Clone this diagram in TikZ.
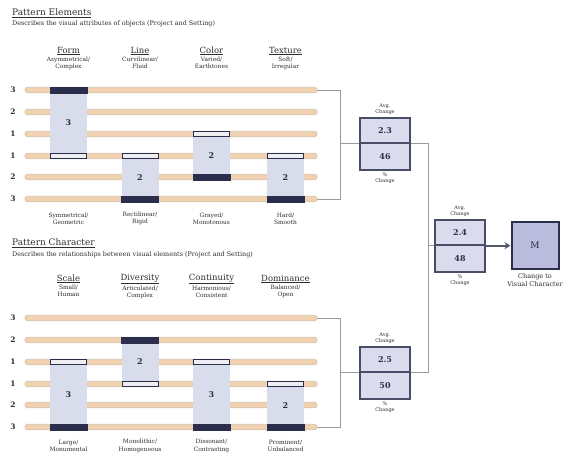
\documentclass[tikz,border=0pt]{standalone}
\usepackage{fontspec}
\setmainfont{DejaVu Serif}
\usetikzlibrary{arrows.meta,positioning,backgrounds}
\definecolor{ink}{HTML}{2E2E2E}
\definecolor{navy}{HTML}{2B2D4C}
\definecolor{peach}{HTML}{F2D1B0}
\definecolor{peachline}{HTML}{D5C4B0}
\definecolor{spanfill}{HTML}{D9DCEB}
\definecolor{capfill}{HTML}{EEEEF2}
\definecolor{sumfill}{HTML}{DADBEC}
\definecolor{mfill}{HTML}{BBBCDD}
\definecolor{wire}{HTML}{9A9A9A}

\begin{document}
\begin{tikzpicture}[
  x=1pt, y=-1pt,
  text=ink,
  head/.style={font=\fontsize{9}{10}\selectfont, anchor=west, inner sep=0pt},
  desc/.style={font=\fontsize{6.4}{7}\selectfont, anchor=west, inner sep=0pt},
  coltitle/.style={font=\fontsize{8.5}{9}\selectfont, inner sep=0pt},
  colsub/.style={font=\fontsize{5.9}{7.3}\selectfont, align=center, inner sep=0pt},
  rowlab/.style={font=\bfseries\fontsize{7.5}{8}\selectfont, inner sep=0pt},
  bar/.style={draw=peachline, fill=peach, minimum width=292pt, minimum height=5.5pt,
              inner sep=0pt, line width=0.6pt, rounded corners=1.5pt},
  spanbody/.style={fill=spanfill, minimum width=37pt, inner sep=0pt,
                   font=\bfseries\fontsize{8}{9}\selectfont, text=navy},
  capdark/.style={fill=navy, draw=navy, minimum width=37pt, minimum height=6pt, inner sep=0pt},
  caplight/.style={fill=capfill, draw=navy, line width=0.9pt, minimum width=36pt,
                   minimum height=5.5pt, inner sep=0pt},
  sumbox/.style={draw=navy!85, fill=sumfill, line width=1.4pt, minimum width=50pt,
                 inner sep=0pt, font=\bfseries\fontsize{8}{9}\selectfont, text=navy},
  sumlab/.style={font=\fontsize{5}{6}\selectfont, align=center, inner sep=0pt},
  mbox/.style={draw=navy, fill=mfill, line width=2pt, minimum size=47pt, inner sep=0pt,
               font=\fontsize{9}{10}\selectfont, text=navy},
  mlab/.style={font=\fontsize{6.5}{7.5}\selectfont, align=center, inner sep=0pt},
  wireline/.style={draw=wire, line width=0.8pt},
  feed/.style={-{Stealth[length=6pt,width=7pt]}, draw=navy!80, line width=1.6pt},
]
\useasboundingbox (0,0) rectangle (573,456);

% ============================================================ PATTERN ELEMENTS
\node[head] (elhead) at (12,13) {\underline{Pattern Elements}};
\node[desc] (eldesc) at (12,24) {Describes the visual attributes of objects (Project and Setting)};

\foreach \r/\yy/\lab in {1/90/3, 2/112/2, 3/134/1, 4/156/1, 5/177/2, 6/199/3} {
  \node[rowlab] (elrow\r) at (13,\yy) {\lab};
  \node[bar] (elbar\r) at (171,\yy) {};
}

\foreach \nm/\cx/\ttl/\ta/\tb/\ba/\bb in {
    form/68.5/Form/Asymmetrical/Complex/Symmetrical/Geometric,
    line/140/Line/Curvilinear/Fluid/Rectilinear/Rigid,
    color/211.5/Color/Varied/Earthtones/Grayed/Monotonous,
    texture/285.5/Texture/Soft/Irregular/Hard/Smooth} {
  \node[coltitle] (\nm h) at (\cx,51) {\underline{\ttl}};
  \node[colsub, below=1.5pt of \nm h] (\nm hs) {\ta/\\\tb};
  \node[colsub] (\nm f) at (\cx,218.5) {\ba/\\\bb};
}

\foreach \nm/\cx/\ya/\yb/\num/\ct/\cb in {
    form/68.5/90/156/3/capdark/caplight,
    line/140/156/199/2/caplight/capdark,
    color/211.5/134/177/2/caplight/capdark,
    texture/285.5/156/199/2/caplight/capdark} {
  \node[spanbody, minimum height={(\yb-\ya)*1pt}] (\nm) at (\cx,{(\ya+\yb)/2}) {\num};
  \node[\ct] (\nm top) at (\cx,\ya) {};
  \node[\cb] (\nm bot) at (\cx,\yb) {};
}

% ============================================================ PATTERN CHARACTER
\node[head] (chhead) at (12,243) {\underline{Pattern Character}};
\node[desc] (chdesc) at (12,255) {Describes the relationships between visual elements (Project and Setting)};

\foreach \r/\yy/\lab in {1/318/3, 2/340/2, 3/362/1, 4/384/1, 5/405/2, 6/427/3} {
  \node[rowlab] (chrow\r) at (13,\yy) {\lab};
  \node[bar] (chbar\r) at (171,\yy) {};
}

\foreach \nm/\cx/\ttl/\ta/\tb/\ba/\bb in {
    scale/68.5/Scale/Small/Human/Large/Monumental,
    diversity/140/Diversity/Articulated/Complex/Monolithic/Homogeneous,
    continuity/211.5/Continuity/Harmonious/Consistent/Dissonant/Contrasting,
    dominance/285.5/Dominance/Balanced/Open/Prominent/Unbalanced} {
  \node[coltitle] (\nm h) at (\cx,279) {\underline{\ttl}};
  \node[colsub, below=1.5pt of \nm h] (\nm hs) {\ta/\\\tb};
  \node[colsub] (\nm f) at (\cx,446) {\ba/\\\bb};
}

\foreach \nm/\cx/\ya/\yb/\num/\ct/\cb in {
    scale/68.5/362/427/3/caplight/capdark,
    diversity/140/340/384/2/capdark/caplight,
    continuity/211.5/362/427/3/caplight/capdark,
    dominance/285.5/384/427/2/caplight/capdark} {
  \node[spanbody, minimum height={(\yb-\ya)*1pt}] (\nm) at (\cx,{(\ya+\yb)/2}) {\num};
  \node[\ct] (\nm top) at (\cx,\ya) {};
  \node[\cb] (\nm bot) at (\cx,\yb) {};
}

% ============================================================ SUMMARY
\node[sumbox, minimum height=25pt] (avgA) at (385,130.5) {2.3};
\node[sumbox, minimum height=27pt, below=-1.4pt of avgA] (pctA) {46};
\node[sumlab, above=2pt of avgA] {Avg.\\Change};
\node[sumlab, below=2pt of pctA] {\%\\Change};

\node[sumbox, minimum height=25pt] (avgC) at (385,359.5) {2.5};
\node[sumbox, minimum height=27pt, below=-1.4pt of avgC] (pctC) {50};
\node[sumlab, above=2pt of avgC] {Avg.\\Change};
\node[sumlab, below=2pt of pctC] {\%\\Change};

\node[sumbox, minimum height=25pt] (avgB) at (460,232.5) {2.4};
\node[sumbox, minimum height=27pt, below=-1.4pt of avgB] (pctB) {48};
\node[sumlab, above=2pt of avgB] {Avg.\\Change};
\node[sumlab, below=2pt of pctB] {\%\\Change};

\node[mbox] (mchg) at (535,245) {M};
\node[mlab, below=4pt of mchg] {Change to\\Visual Character};

\coordinate (elrail) at (340,0);
\coordinate (join) at (428,0);

\begin{scope}[on background layer]
  \draw[wireline] (elbar1.east) -| (elrail |- elbar6.east) -- (elbar6.east);
  \draw[wireline] (chbar1.east) -| (elrail |- chbar6.east) -- (chbar6.east);
  \draw[wireline] (elrail |- avgA.south) -- (join |- avgA.south)
    -- (join |- avgC.south) -- (elrail |- avgC.south);
  \draw[wireline] (join |- avgB.south) -- (avgB.south);
\end{scope}
\draw[feed] (avgB.south east) -- (avgB.south east -| mchg.west);

\end{tikzpicture}
\end{document}
